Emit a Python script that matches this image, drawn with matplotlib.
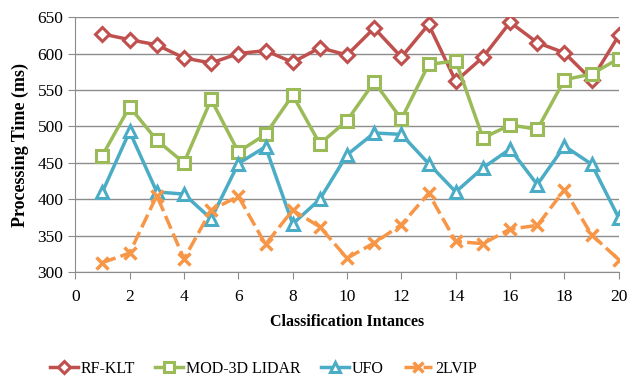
import matplotlib
matplotlib.use("Agg")
from matplotlib import pyplot as plt

# processing time per classification instance (ms)
instances = list(range(1, 21))
rf_klt = [627, 619, 612, 594, 587, 600, 604, 588, 608, 598,
          635, 595, 640, 562, 595, 643, 615, 601, 564, 625]
mod_lidar = [460, 527, 481, 450, 537, 465, 489, 543, 476, 508,
             561, 510, 585, 590, 484, 502, 496, 564, 572, 593]
ufo = [410, 493, 410, 407, 373, 449, 472, 366, 400, 461,
       491, 489, 449, 410, 443, 469, 420, 473, 448, 374]
lvip = [313, 326, 405, 318, 385, 404, 338, 385, 362, 319,
        340, 365, 408, 342, 339, 359, 364, 413, 351, 317]

plt.rcParams["font.family"] = ["Liberation Serif", "DejaVu Serif"]

fig = plt.figure(figsize=(6.27, 3.81), dpi=100)
ax = fig.add_axes([0.12, 0.286, 0.867, 0.669])

kw = dict(linewidth=2.5, markersize=9, markeredgewidth=2.2, markerfacecolor="white")
ax.plot(instances, rf_klt, color="#C0504D", marker="D", label="RF-KLT",
        **{**kw, "markersize": 7.5})
ax.plot(instances, mod_lidar, color="#9BBB59", marker="s", label="MOD-3D LIDAR", **kw)
ax.plot(instances, ufo, color="#4BACC6", marker="^", label="UFO", **kw)
ax.plot(instances, lvip, color="#F79646", marker="x", linestyle=(0, (4, 1.5)),
        label="2LVIP", **{**kw, "markeredgewidth": 2.5})

ax.set_xlim(0, 20)
ax.set_ylim(300, 650)
ax.set_xticks(range(0, 21, 2))
ax.set_yticks(range(300, 651, 50))
ax.yaxis.grid(True, color="#8c8c8c", linewidth=1)
ax.set_axisbelow(True)
for s in ["top", "right"]:
    ax.spines[s].set_visible(False)
for s in ["left", "bottom"]:
    ax.spines[s].set_color("#8c8c8c")
ax.tick_params(axis="both", labelsize=12.5, color="#8c8c8c", length=5)
ax.tick_params(axis="x", pad=7)
ax.set_xlabel("Classification Intances", fontsize=11.5, fontweight="bold", labelpad=7)
ax.set_ylabel("Processing Time (ms)", fontsize=13, fontweight="bold", labelpad=6)

ax.legend(loc="center", bbox_to_anchor=(0.346, -0.38), ncol=4, frameon=False,
          fontsize=11.5, handlelength=1.75, columnspacing=1.25, handletextpad=0.2,
          markerscale=0.8)

fig.savefig("out.png", dpi=100)
